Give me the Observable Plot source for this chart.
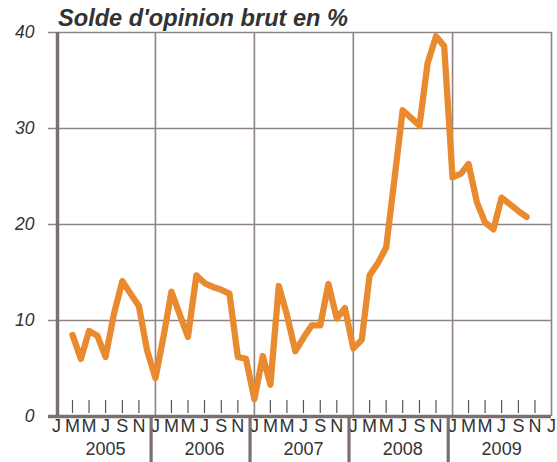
<!DOCTYPE html>
<html>
<head>
<meta charset="utf-8">
<script src="https://cdn.jsdelivr.net/npm/d3@7"></script>
<script src="https://cdn.jsdelivr.net/npm/@observablehq/plot@0.6"></script>
<style>
  body { margin: 0; background: #fff; }
  #wrap { position: relative; width: 557px; height: 462px; }
  #title { position: absolute; left: 58px; top: 7px; font: italic bold 23.6px "Liberation Sans", Arial, sans-serif; line-height: 23px; color: #333; white-space: nowrap; }
</style>
</head>
<body>
<div id="wrap"><div id="title">Solde d'opinion brut en %</div></div>
<script>
// Data: monthly values starting March 2005
const startMonth = "2005-03-01";
const values = [
  8.5, 6.0, 8.9, 8.4, 6.2, 10.7, 14.1, 12.8, 11.5, 6.9,               // 2005 Mar-Dec
  4.0, 8.5, 13.0, 10.6, 8.3, 14.7, 13.9, 13.5, 13.2, 12.8, 6.2, 6.0,  // 2006
  1.8, 6.3, 3.3, 13.6, 10.6, 6.8, 8.2, 9.5, 9.5, 13.8, 10.2, 11.3,    // 2007
  7.1, 8.0, 14.7, 16.0, 17.6, 24.8, 31.9, 31.1, 30.3, 36.8, 39.6, 38.6, // 2008
  24.9, 25.3, 26.3, 22.3, 20.2, 19.5, 22.8, 22.1, 21.4, 20.8          // 2009 Jan-Oct
];
const years = [2005, 2006, 2007, 2008, 2009];
const monthLetters = ["J", "M", "M", "J", "S", "N"]; // Jan, Mar, May, Jul, Sep, Nov
const yTicks = [0, 10, 20, 30, 40];
const yGrid = [10, 20, 30, 40];

const start = new Date(startMonth + "T00:00:00Z");
const data = values.map((v, i) => ({date: d3.utcMonth.offset(start, i), value: v}));

const monthLabels = [];
years.forEach(y => monthLetters.forEach((l, k) => monthLabels.push({date: new Date(Date.UTC(y, k * 2, 1)), text: l})));
monthLabels.push({date: new Date(Date.UTC(2010, 0, 1)), text: "J"});
const minorTicks = monthLabels.filter(d => d.date.getUTCMonth() !== 0).map(d => d.date);
const yearStarts = [2006, 2007, 2008, 2009, 2010].map(y => new Date(Date.UTC(y, 0, 1)));
const separators = [2005, 2006, 2007, 2008].map(y => new Date(Date.UTC(y, 11, 16)));
const yearLabels = years.map(y => ({date: new Date(Date.UTC(y, 6, 1)), text: String(y)}));

const grid = "#8e8484";
const axisCol = "#7b6f6f";
const txt = "#333333";

const chart = Plot.plot({
  width: 557,
  height: 462,
  marginLeft: 56,
  marginRight: 6,
  marginTop: 32,
  marginBottom: 46,
  style: {background: "#fff", fontFamily: "'Liberation Sans', Arial, sans-serif", overflow: "visible"},
  x: {type: "utc", domain: [new Date(Date.UTC(2005, 0, 1)), new Date(Date.UTC(2010, 0, 1))], axis: null},
  y: {domain: [0, 40], axis: null},
  marks: [
    Plot.ruleY(yGrid, {y: d => d, stroke: grid, strokeWidth: 1.6, insetLeft: -8}),
    Plot.ruleX(yearStarts, {x: d => d, stroke: grid, strokeWidth: 1.6}),
    Plot.ruleX(minorTicks, {x: d => d, stroke: "#555", strokeWidth: 1.2, insetTop: 368, insetBottom: 3}),
    Plot.text(monthLabels, {x: "date", text: "text", frameAnchor: "bottom", dy: 15, fontSize: 18, fill: txt}),
    Plot.text(yearLabels, {x: "date", text: "text", frameAnchor: "bottom", dy: 38, fontSize: 18, fill: txt}),
    Plot.ruleX(separators, {x: d => d, stroke: axisCol, strokeWidth: 3.2, insetTop: 384, insetBottom: -46}),
    Plot.ruleY([0], {y: d => d, stroke: axisCol, strokeWidth: 3.5, insetLeft: -8}),
    Plot.ruleX([new Date(Date.UTC(2005, 0, 1))], {x: d => d, stroke: axisCol, strokeWidth: 3.5, dx: 1}),
    Plot.text(yTicks, {y: d => d, text: d => String(d), frameAnchor: "left", textAnchor: "end", dx: -22, fontSize: 17.5, fontStyle: "italic", fill: txt}),
    Plot.line(data, {x: "date", y: "value", stroke: "#e88a2d", strokeWidth: 6.3, strokeLinejoin: "round"})
  ]
});
document.getElementById("wrap").prepend(chart);
</script>
</body>
</html>
